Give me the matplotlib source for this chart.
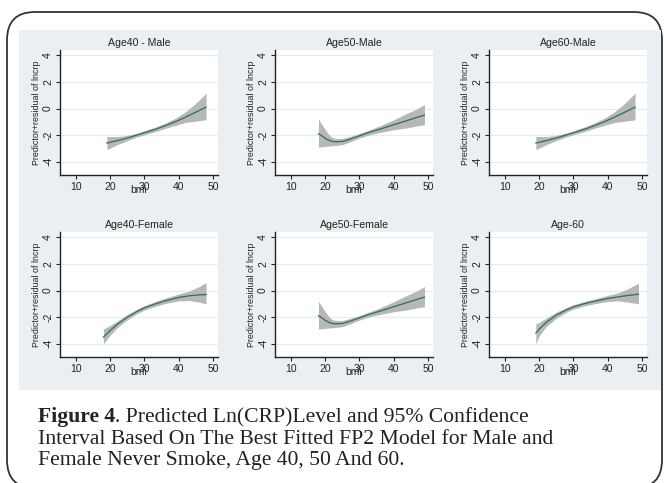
import matplotlib
matplotlib.use("Agg")
import matplotlib.pyplot as plt
from matplotlib.patches import FancyBboxPatch, Rectangle
import numpy as np

plt.rcParams['font.family'] = ['Liberation Sans', 'DejaVu Sans']

# panel titles
titles = ['Age40 - Male', 'Age50-Male', 'Age60-Male',
          'Age40-Female', 'Age50-Female', 'Age-60']

# bmi grids and fitted values with 95% CI
bmi_a = [19, 22, 25, 28, 30, 33, 36, 39, 42, 45, 48]
fit_a = [-2.6, -2.42, -2.22, -1.98, -1.82, -1.58, -1.3, -1.0, -0.65, -0.28, 0.1]
lo_a = [-3.1, -2.72, -2.42, -2.12, -1.97, -1.75, -1.5, -1.27, -1.05, -0.95, -0.85]
hi_a = [-2.1, -2.12, -2.02, -1.84, -1.67, -1.41, -1.1, -0.73, -0.25, 0.39, 1.15]

bmi_b = [18, 19, 20, 21, 22, 23, 25, 27, 30, 33, 36, 40, 44, 47, 49]
fit_b = [-1.9, -2.05, -2.25, -2.38, -2.48, -2.5, -2.48, -2.33, -2.05, -1.78, -1.55, -1.22, -0.9, -0.65, -0.5]
lo_b = [-2.9, -2.88, -2.85, -2.82, -2.8, -2.78, -2.72, -2.53, -2.22, -1.97, -1.8, -1.6, -1.45, -1.3, -1.22]
hi_b = [-0.8, -1.2, -1.6, -1.95, -2.18, -2.25, -2.25, -2.12, -1.88, -1.6, -1.3, -0.85, -0.35, 0.0, 0.3]

bmi_c = [18, 20, 22, 25, 28, 30, 33, 36, 40, 43, 46, 48]
fit_c = [-3.5, -3.0, -2.55, -2.0, -1.55, -1.3, -1.02, -0.78, -0.52, -0.4, -0.33, -0.3]
lo_c = [-4.0, -3.35, -2.8, -2.2, -1.72, -1.47, -1.2, -0.98, -0.78, -0.75, -0.88, -1.0]
hi_c = [-2.9, -2.62, -2.3, -1.8, -1.38, -1.13, -0.84, -0.58, -0.26, -0.05, 0.3, 0.6]

bmi_d = [19, 20, 22, 25, 28, 30, 33, 36, 40, 43, 46, 49]
fit_d = [-3.2, -2.9, -2.4, -1.85, -1.45, -1.23, -1.0, -0.82, -0.6, -0.48, -0.37, -0.28]
lo_d = [-4.0, -3.4, -2.72, -2.08, -1.62, -1.4, -1.17, -1.0, -0.83, -0.78, -0.88, -1.0]
hi_d = [-2.5, -2.4, -2.08, -1.62, -1.28, -1.06, -0.83, -0.64, -0.37, -0.18, 0.14, 0.55]

panels = [(bmi_a, fit_a, lo_a, hi_a), (bmi_b, fit_b, lo_b, hi_b), (bmi_a, fit_a, lo_a, hi_a),
          (bmi_c, fit_c, lo_c, hi_c), (bmi_b, fit_b, lo_b, hi_b), (bmi_d, fit_d, lo_d, hi_d)]

x_ticks = [10, 20, 30, 40, 50]
y_ticks = [-4, -2, 0, 2, 4]
y_ticklabels = ['-4', '-2', '0', '2', '4']

W, H = 664, 483
fig = plt.figure(figsize=(W / 100, H / 100), dpi=100)

# background layer in pixel coordinates
bg = fig.add_axes([0, 0, 1, 1], zorder=-5)
bg.set_xlim(0, W)
bg.set_ylim(H, 0)
bg.axis('off')
bg.add_patch(FancyBboxPatch((7, 12), 655, 476, boxstyle="round,pad=0,rounding_size=28",
                            fc='white', ec='#333333', lw=1.3))
bg.add_patch(Rectangle((19, 30), 642, 360, fc='#e9eff2', ec='none'))

# caption
cap_kw = dict(family=['Liberation Serif', 'DejaVu Serif'], fontsize=15.6, color='#222222', va='baseline')
t1 = bg.text(38, 422, 'Figure 4', fontweight='bold', **cap_kw)
fig.canvas.draw()
ext = t1.get_window_extent()
bg.text(38 + ext.width, 422, '. Predicted Ln(CRP)Level and 95% Confidence', **cap_kw)
bg.text(38, 443.5, 'Interval Based On The Best Fitted FP2 Model for Male and', **cap_kw)
bg.text(38, 465, 'Female Never Smoke, Age 40, 50 And 60.', **cap_kw)

lefts = [60, 275, 489]
tops = [50, 232]
aw, ah = 158, 125

for k, (bmi, fit, lo, hi) in enumerate(panels):
    r, c = divmod(k, 3)
    l, t = lefts[c], tops[r]
    ax = fig.add_axes([l / W, 1 - (t + ah) / H, aw / W, ah / H])
    ax.set_facecolor('white')
    ax.fill_between(bmi, lo, hi, color='#b7b7b7', lw=0, zorder=2)
    ax.plot(bmi, fit, color='#2a6e5f', lw=0.9, zorder=3)
    ax.set_xlim(5.3, 51.5)
    ax.set_ylim(-5, 4.4)
    ax.set_xticks(x_ticks)
    ax.set_yticks(y_ticks)
    ax.set_yticklabels(y_ticklabels, rotation=90, va='center')
    for yt in y_ticks:
        ax.axhline(yt, color='#e6edf1', lw=0.9, zorder=1)
    for s in ['top', 'right']:
        ax.spines[s].set_visible(False)
    for s in ['left', 'bottom']:
        ax.spines[s].set_color('#222222')
        ax.spines[s].set_linewidth(1.0)
    ax.tick_params(length=3, width=0.8, color='#222222', labelsize=7.5, pad=2, labelcolor='#222222')
    ax.set_title(titles[k], fontsize=7.6, pad=3, color='#222222')
    ax.set_xlabel('bmi', fontsize=7.5, labelpad=-5, color='#222222')
    ax.set_ylabel('Predictor+residual of lncrp', fontsize=6.4, labelpad=1.5, color='#222222')

fig.savefig('out.png', dpi=100)
